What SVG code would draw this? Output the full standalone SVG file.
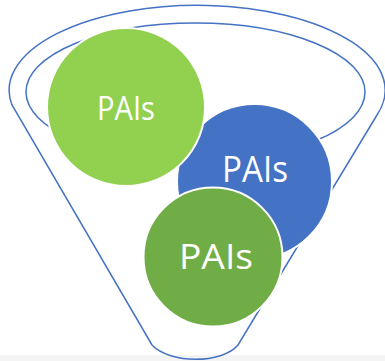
<svg xmlns="http://www.w3.org/2000/svg" width="385" height="361" viewBox="0 0 385 361">
<style>
.funnel{fill:none;stroke:#4472C4;stroke-width:1.5}
.c{stroke:#fff;stroke-width:2}
.t{fill:#fff;font-family:"Open Sans","Noto Sans",sans-serif;text-anchor:middle}
</style>
<rect x="0" y="0" width="385" height="361" fill="#fff"/>
<rect x="0" y="355" width="385" height="6" fill="#f4f4f4"/>
<g id="connectors">
<path class="funnel" d="M12,105 A188,85 0 1 1 377,115 L238,345 C222,364 170,364 152,345 Z"/>
<ellipse class="funnel" cx="195.5" cy="92" rx="169.5" ry="69"/>
</g>
<g id="node-blue">
<circle class="c" cx="254.5" cy="181.5" r="77.5" fill="#4472C4"/>
<text class="t" x="255" y="181.5" font-size="36" textLength="66" lengthAdjust="spacingAndGlyphs">PAIs</text>
</g>
<g id="node-lightgreen">
<circle class="c" cx="126" cy="107" r="79" fill="#92D050"/>
<text class="t" x="126" y="120" font-size="33" textLength="58" lengthAdjust="spacingAndGlyphs">PAIs</text>
</g>
<g id="node-darkgreen">
<circle class="c" cx="213" cy="257" r="69.5" fill="#70AD47"/>
<text class="t" x="216" y="269.3" font-size="35" textLength="74" lengthAdjust="spacingAndGlyphs">PAIs</text>
</g>
</svg>
